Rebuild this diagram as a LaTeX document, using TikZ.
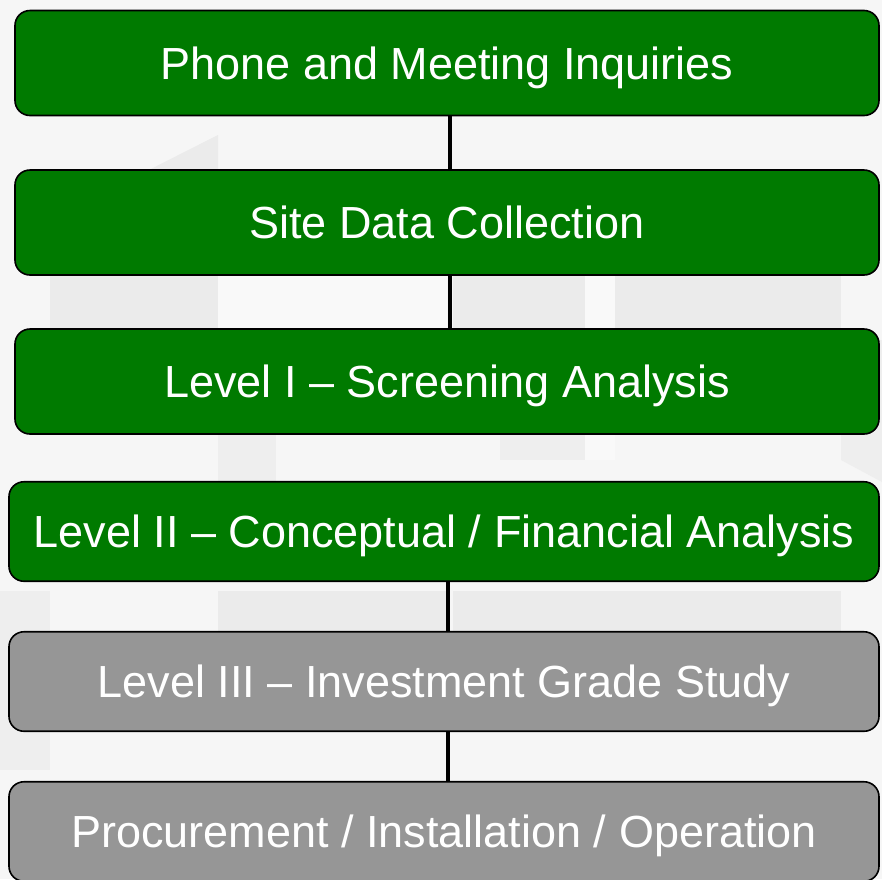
\documentclass[tikz,border=0pt]{standalone}
\usepackage{fontspec}
\setmainfont{Liberation Sans}
\usetikzlibrary{calc}

\definecolor{phasegreen}{RGB}{0,122,0}
\definecolor{phasegray}{RGB}{150,150,150}
\definecolor{backdrop}{RGB}{246,246,246}
\definecolor{ghostdark}{RGB}{235,235,235}
\definecolor{ghostmid}{RGB}{238,238,238}
\definecolor{ghostlight}{RGB}{249,249,249}

\begin{document}
\begin{tikzpicture}[x=1pt,y=-1pt,
  phase/.style={draw=black,rectangle,rounded corners=15pt,line width=1.6pt,
    text=white,font=\fontsize{45}{54}\selectfont,inner sep=2pt,
    text height=32pt,text depth=0pt},
  phasedone/.style={phase,fill=phasegreen,minimum width=864pt,minimum height=105pt},
  phaselate/.style={phasedone,minimum width=870pt,minimum height=99.5pt},
  phaseopen/.style={phase,fill=phasegray,minimum width=870pt,minimum height=99.5pt},
  link/.style={line width=3.5pt,black}]

\useasboundingbox (0,0) rectangle (882,879);
\clip (0,0) rectangle (882,879);
\fill[backdrop] (0,0) rectangle (882,879);

% faint shapes behind the boxes
\fill[ghostdark] (50,220) -- (218,135) -- (218,420) -- (50,420) -- cycle;
\fill[ghostlight] (218,250) rectangle (447,330);
\fill[ghostmid] (218,420) rectangle (276,485);
\fill[ghostdark] (453,250) rectangle (585,420);
\fill[ghostmid] (500,420) rectangle (585,460);
\fill[ghostlight] (585,250) rectangle (615,460);
\fill[ghostdark] (615,250) rectangle (841,420);
\fill[ghostmid] (841,340) -- (882,340) -- (882,482) -- (841,460) -- cycle;
\fill[ghostmid] (0,591) rectangle (50,770);
\fill[ghostdark] (218,591) rectangle (447,640);
\fill[ghostdark] (453,591) rectangle (841,640);

\node [phasedone] (phone) at (447,63) {Phone and Meeting Inquiries};
\node [phasedone] (site) at ($ (phone) + (0,159.5) $) {Site Data Collection};
\node [phasedone] (levelone) at ($ (site) + (0,159) $) {Level I – Screening Analysis};
\node [phaselate] (leveltwo) at ($ (levelone) + (-3,150) $) {Level II – Conceptual / Financial Analysis};
\node [phaseopen] (levelthree) at ($ (leveltwo) + (0,150) $) {Level III – Investment Grade Study};
\node [phaseopen] (procure) at ($ (levelthree) + (0,150) $) {Procurement / Installation / Operation};

\draw[link] ([xshift=3pt]phone.south) -- ([xshift=3pt]site.north);
\draw[link] ([xshift=3pt]site.south) -- ([xshift=3pt]levelone.north);
\draw[link] ([xshift=4pt]leveltwo.south) -- ([xshift=4pt]levelthree.north);
\draw[link] ([xshift=4pt]levelthree.south) -- ([xshift=4pt]procure.north);

\end{tikzpicture}
\end{document}
